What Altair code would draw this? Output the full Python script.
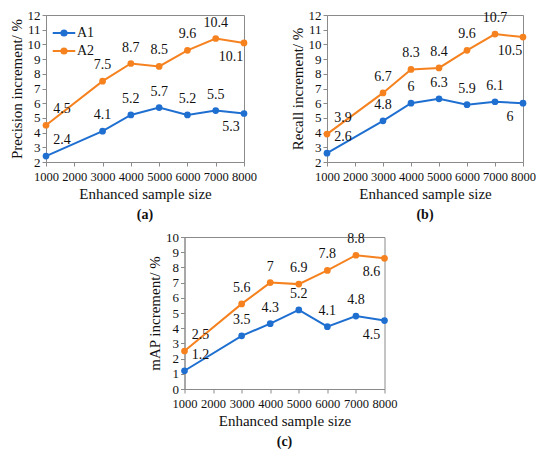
import altair as alt
import pandas as pd

axis_labels = ["1000", "2000", "3000", "4000", "5000", "6000", "7000", "8000"]
sizes = ["1000", "3000", "4000", "5000", "6000", "7000", "8000"]
series_names = ["A1", "A2"]

prec_a1 = [2.4, 4.1, 5.2, 5.7, 5.2, 5.5, 5.3]
prec_a2 = [4.5, 7.5, 8.7, 8.5, 9.6, 10.4, 10.1]
rec_a1 = [2.6, 4.8, 6, 6.3, 5.9, 6.1, 6]
rec_a2 = [3.9, 6.7, 8.3, 8.4, 9.6, 10.7, 10.5]
map_a1 = [1.2, 3.5, 4.3, 5.2, 4.1, 4.8, 4.5]
map_a2 = [2.5, 5.6, 7, 6.9, 7.8, 8.8, 8.6]

FONT = "Liberation Serif, Times New Roman, serif"
BLUE = "#1f6fd1"
ORANGE = "#f5821f"
TXT = "#111111"
LEGEND_PATH = "M-1.3,0H1.3M0.3,0A0.3,0.3 0 1,1 -0.3,0A0.3,0.3 0 1,1 0.3,0Z"


def make_df(a1, a2):
    rows = []
    for name, vals in zip(series_names, [a1, a2]):
        for s, v in zip(sizes, vals):
            rows.append({"size": s, "series": name, "value": v, "label": f"{v:g}"})
    return pd.DataFrame(rows)


def panel(a1, a2, ytitle, ymin, ymax, caption, w, h):
    df = make_df(a1, a2)
    x = alt.X("size:N", scale=alt.Scale(type="point", domain=axis_labels, padding=0),
              axis=alt.Axis(title="Enhanced sample size", labelAngle=0, grid=False,
                            labelFont=FONT, titleFont=FONT, labelOverlap=False,
                            labelFontSize=12.5, titleFontSize=15, titleFontWeight="normal",
                            labelPadding=4, titlePadding=4, tickSize=4))
    y = alt.Y("value:Q", scale=alt.Scale(domain=[ymin, ymax], nice=False, zero=False),
              axis=alt.Axis(title=ytitle, values=list(range(ymin, ymax + 1)), grid=False,
                            labelFont=FONT, titleFont=FONT,
                            labelFontSize=13, titleFontSize=15, titleFontWeight="normal",
                            tickSize=4, labelPadding=2, titlePadding=3))
    color = alt.Color("series:N", scale=alt.Scale(domain=series_names, range=[BLUE, ORANGE]),
                      legend=alt.Legend(title=None, orient="top-left", offset=8,
                                        symbolType=LEGEND_PATH, symbolSize=300,
                                        symbolStrokeWidth=2, labelFontSize=14,
                                        rowPadding=1, labelFont=FONT, labelColor=TXT,
                                        labelOffset=3))
    base = alt.Chart(df).encode(x=x, y=y)
    lines = base.mark_line(point=alt.OverlayMarkDef(size=45, filled=True), strokeWidth=2).encode(color=color)
    txt_mid = base.transform_filter(
        alt.FieldOneOfPredicate(field="size", oneOf=sizes[1:-1])
    ).mark_text(dy=-16, fontSize=14, font=FONT, color=TXT).encode(text="label:N")
    txt_first = base.transform_filter(
        alt.FieldEqualPredicate(field="size", equal=sizes[0])
    ).mark_text(dx=16, dy=-16, fontSize=14, font=FONT, color=TXT).encode(text="label:N")
    txt_last = base.transform_filter(
        alt.FieldEqualPredicate(field="size", equal=sizes[-1])
    ).mark_text(dx=-13, dy=14, fontSize=14, font=FONT, color=TXT).encode(text="label:N")
    return alt.layer(lines, txt_mid, txt_first, txt_last).properties(
        width=w, height=h,
        title=alt.TitleParams(caption, orient="bottom", fontSize=14, fontWeight="bold",
                              font=FONT, offset=6, color=TXT),
    )


pa = panel(prec_a1, prec_a2, "Precision increment/ %", 2, 12, "(a)", 198, 147)
pb = panel(rec_a1, rec_a2, "Recall increment/ %", 2, 12, "(b)", 196, 147)
pc = panel(map_a1, map_a2, "mAP increment/ %", 0, 10, "(c)", 200, 152)

chart = alt.vconcat(
    alt.hconcat(pa, pb, spacing=32),
    pc,
    spacing=8,
    center=True,
).configure(font=FONT, padding={"left": 0, "top": 0, "right": 0, "bottom": 0}).configure_view(
    stroke="#8a8a8a", strokeWidth=1
).configure_axis(
    domainColor="#8a8a8a", tickColor="#8a8a8a", labelColor=TXT, titleColor=TXT,
    labelFont=FONT, titleFont=FONT
)

chart.save("out.html", embed_options={"renderer": "svg", "actions": False})
